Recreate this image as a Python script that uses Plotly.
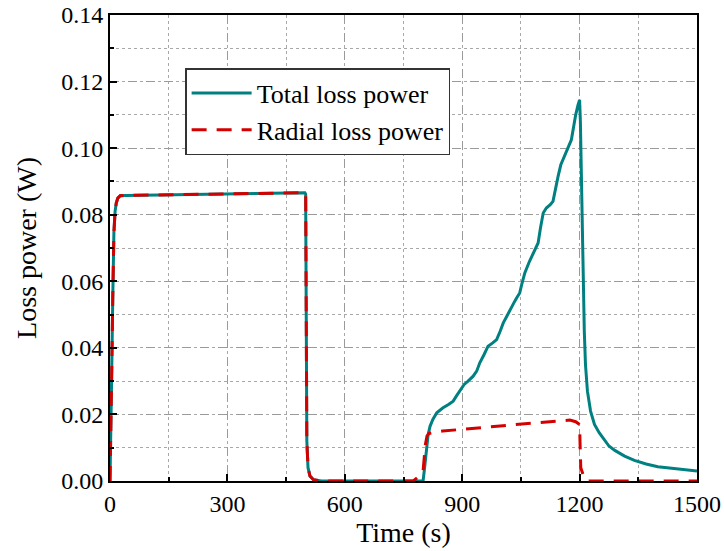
import plotly.graph_objects as go

# ---- data ----
time_total = [0, 2, 4, 7, 10, 13, 16, 20, 26, 40, 100, 200, 300, 400, 498, 500, 501, 502, 503, 506, 511, 520, 540,
              700, 795, 800, 803, 806, 809, 813, 818, 825, 835, 851, 865, 877, 885, 894, 905, 915, 928, 937, 945,
              956, 966, 978, 988, 997, 1005, 1014, 1022, 1032, 1039, 1047, 1052, 1060, 1072, 1085, 1094, 1100,
              1107, 1115, 1125, 1132, 1138, 1145, 1152, 1160, 1170, 1179, 1184, 1190, 1196, 1200, 1202, 1204,
              1206, 1209, 1212, 1215, 1220, 1228, 1238, 1250, 1262, 1275, 1290, 1315, 1340, 1370, 1400, 1450, 1500]
total_loss = [0, 0.012, 0.0296, 0.0546, 0.0747, 0.081, 0.0835, 0.085, 0.0857, 0.0858, 0.0859, 0.0861, 0.0862,
              0.0864, 0.0866, 0.0862, 0.06, 0.03, 0.012, 0.004, 0.0015, 0.0004, 0.0,
              0.0, 0.0, 0.0, 0.003, 0.007, 0.0105, 0.014, 0.0165, 0.0185, 0.0205, 0.022, 0.023, 0.024, 0.0255,
              0.027, 0.029, 0.030, 0.0315, 0.033, 0.0355, 0.038, 0.0405, 0.0415, 0.0425, 0.045, 0.0475, 0.0495,
              0.0515, 0.0535, 0.055, 0.0565, 0.059, 0.0625, 0.066, 0.0695, 0.0715, 0.076, 0.0805, 0.082, 0.083,
              0.084, 0.088, 0.0915, 0.095, 0.0975, 0.100, 0.1025, 0.106, 0.110, 0.113, 0.1145, 0.108, 0.095,
              0.080, 0.060, 0.045, 0.035, 0.027, 0.021, 0.017, 0.0145, 0.0125, 0.0105, 0.0092, 0.0075, 0.0062,
              0.0051, 0.0043, 0.0036, 0.003]

time_radial = [0, 2, 4, 7, 10, 13, 16, 20, 26, 40, 100, 200, 300, 400, 498, 500, 501, 502, 503, 506, 511, 520, 540,
               700, 775, 790, 800, 803, 806, 810, 815, 850, 894, 1022, 1100, 1175, 1190, 1200, 1201, 1202, 1203,
               1210, 1218, 1300, 1500]
radial_loss = [0, 0.012, 0.0296, 0.0546, 0.0747, 0.081, 0.0835, 0.085, 0.0857, 0.0858, 0.0859, 0.0861, 0.0862,
               0.0864, 0.0866, 0.0862, 0.06, 0.03, 0.012, 0.004, 0.0015, 0.0004, 0.0,
               0.0, 0.0, 0.0015, 0.003, 0.007, 0.011, 0.0135, 0.0143, 0.015, 0.0155, 0.0168, 0.0176, 0.0183,
               0.0178, 0.017, 0.012, 0.007, 0.004, 0.0015, 0.0, 0.0, 0.0]

x_ticks = [0, 300, 600, 900, 1200, 1500]
y_ticks = [0.00, 0.02, 0.04, 0.06, 0.08, 0.10, 0.12, 0.14]

FONT = "Liberation Serif"
TEAL = "#008080"
RED = "#d40000"

fig = go.Figure()
fig.add_trace(go.Scatter(x=time_total, y=total_loss, mode="lines", name="Total loss power",
                         line=dict(color=TEAL, width=3)))
fig.add_trace(go.Scatter(x=time_radial, y=radial_loss, mode="lines", name="Radial loss power",
                         line=dict(color=RED, width=3, dash="15px,10px")))

axis_common = dict(
    showline=True, linecolor="black", linewidth=2, mirror=True,
    ticks="inside", ticklen=7, tickwidth=2, tickcolor="black",
    showgrid=True, gridcolor="#9a9a9a", gridwidth=1, griddash="dash",
    zeroline=False, automargin=False,
    tickfont=dict(family=FONT, size=24, color="black"),
)

fig.update_xaxes(
    range=[0, 1500], tickvals=x_ticks, ticktext=[str(v) for v in x_ticks],
    title=dict(text="Time (s)", font=dict(family=FONT, size=28, color="black"), standoff=6),
    minor=dict(dtick=150, tick0=0, showgrid=True, griddash="dot", gridcolor="#a8a8a8",
               ticks="inside", ticklen=4, tickwidth=2, tickcolor="black"),
    **axis_common,
)
fig.update_yaxes(
    range=[0, 0.14], tickvals=y_ticks, ticktext=[f"{v:.2f}" for v in y_ticks],
    title=dict(text="Loss power (W)", font=dict(family=FONT, size=28, color="black"), standoff=16),
    minor=dict(dtick=0.01, tick0=0, showgrid=True, griddash="dot", gridcolor="#a8a8a8",
               ticks="inside", ticklen=4, tickwidth=2, tickcolor="black"),
    **axis_common,
)

fig.update_layout(
    width=724, height=551,
    margin=dict(l=110, r=27, t=15, b=70),
    paper_bgcolor="white", plot_bgcolor="white",
    font=dict(family=FONT, color="black"),
    showlegend=True,
    legend=dict(x=0.128, y=0.886, xanchor="left", yanchor="top",
                bgcolor="white", bordercolor="#333333", borderwidth=1.5,
                font=dict(family=FONT, size=26, color="black"),
                tracegroupgap=0, itemwidth=60),
)

fig.write_html("out.html", config={"displayModeBar": False},
               post_script="document.body.style.margin='0px';")
